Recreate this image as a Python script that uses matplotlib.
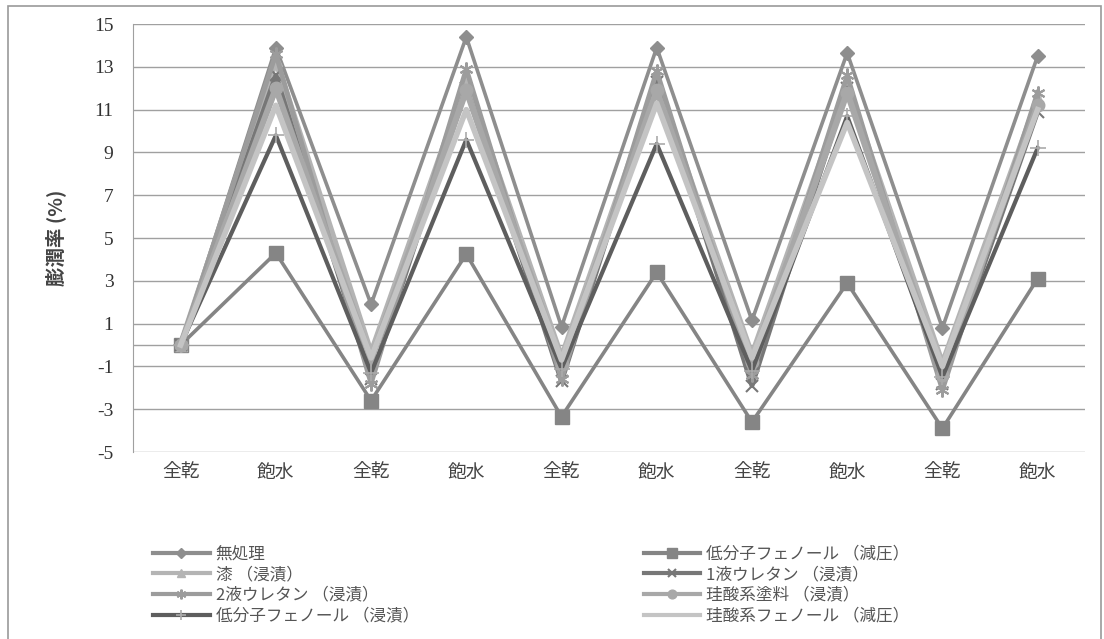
import matplotlib.pyplot as plt
import numpy as np
from matplotlib.patches import Rectangle

plt.rcParams['font.family'] = ['Noto Sans CJK JP', 'DejaVu Sans']

# data
cats = ['全乾', '飽水', '全乾', '飽水', '全乾', '飽水', '全乾', '飽水', '全乾', '飽水']
mushori = [0, 13.9, 1.9, 14.4, 0.85, 13.9, 1.15, 13.65, 0.8, 13.5]
teibunshi_gen = [0, 4.3, -2.6, 4.25, -3.35, 3.4, -3.6, 2.9, -3.9, 3.1]
urushi = [0, 13.3, -0.4, 12.3, -0.6, 12.2, -0.5, 12.1, -0.9, 11.5]
ekitan1 = [0, 12.6, -1.6, 12.0, -1.7, 12.3, -1.9, 12.0, -1.8, 10.9]
ekitan2 = [0, 13.6, -1.8, 12.9, -1.6, 12.8, -1.4, 12.6, -2.1, 11.8]
keisan_toryo = [0, 12.0, -0.7, 11.9, -0.9, 11.9, -0.8, 11.8, -1.4, 11.2]
teibunshi_shin = [0, 9.8, -1.3, 9.6, -1.1, 9.4, -1.2, 10.7, -1.5, 9.2]
keisan_phenol = [0, 11.2, -0.6, 11.0, -0.7, 11.3, -0.6, 10.4, -1.0, 11.0]

fig = plt.figure(figsize=(11.04, 6.39), dpi=100)
ax = fig.add_axes([0.1205, 0.2926, 0.8625, 0.6698])

fig.patches.append(Rectangle((0.007, -0.01), 0.99, 1.0, transform=fig.transFigure,
                             fill=False, edgecolor='#9a9a9a', linewidth=1.2))

x = np.arange(len(cats))

l1, = ax.plot(x, mushori, color='#8e8e8e', lw=2.6, marker='D', ms=7, zorder=3)
l2, = ax.plot(x, teibunshi_gen, color='#858585', lw=2.6, marker='s', ms=10, zorder=3)
l3, = ax.plot(x, urushi, color='#b4b4b4', lw=4.5, marker='^', ms=9, zorder=3)
l4, = ax.plot(x, ekitan1, color='#777777', lw=3.5, marker='x', ms=9, mew=1.5, zorder=3)
l5, = ax.plot(x, ekitan2, color='#9c9c9c', lw=3.5, marker=(6, 2, 0), ms=10, mew=1.5, zorder=3)
l6, = ax.plot(x, keisan_toryo, color='#a8a8a8', lw=4.5, marker='o', ms=9, zorder=3)
l7, = ax.plot(x, teibunshi_shin, color='#5e5e5e', lw=3.0, marker='+', ms=11, mew=1.2,
              mec='#aaaaaa', zorder=3)
l8, = ax.plot(x, keisan_phenol, color='#c4c4c4', lw=4.0, zorder=3)

ax.set_xlim(-0.5, 9.5)
ax.set_ylim(-5, 15)
yt = np.arange(-5, 16, 2)
ax.set_yticks(yt)
ax.set_yticklabels([str(v) for v in yt], family='Liberation Serif', fontsize=14, color='#333333')
ax.set_xticks(x)
ax.set_xticklabels(cats, fontsize=13.5, color='#444444')
ax.tick_params(length=0, pad=14)
ax.tick_params(axis='x', pad=7)
for v in yt:
    ax.axhline(v, color='#a0a0a0', lw=1.0, zorder=1)
ax.axhline(0, color='#a0a0a0', lw=1.0, zorder=1)
for s in ['top', 'right', 'bottom']:
    ax.spines[s].set_visible(False)
ax.spines['left'].set_color('#a0a0a0')

ax.set_ylabel('膨潤率 (%)', fontsize=14, fontweight='bold', color='#444444', labelpad=20)

handles = [l1, l3, l5, l7, l2, l4, l6, l8]
labels = ['無処理', '漆 （浸漬）', '2液ウレタン （浸漬）', '低分子フェノール （浸漬）',
          '低分子フェノール （減圧）', '1液ウレタン （浸漬）', '珪酸系塗料 （浸漬）',
          '珪酸系フェノール （減圧）']
leg = fig.legend(handles, labels, ncol=2, loc='upper left', bbox_to_anchor=(0.125, 0.17),
                 frameon=False, fontsize=12, handlelength=3.4, columnspacing=13.5,
                 labelspacing=0.22, handletextpad=0.35, markerscale=0.7)
for line in leg.get_lines():
    line.set_linewidth(3.0)
for t in leg.get_texts():
    t.set_color('#555555')

fig.savefig('out.png', dpi=100)
